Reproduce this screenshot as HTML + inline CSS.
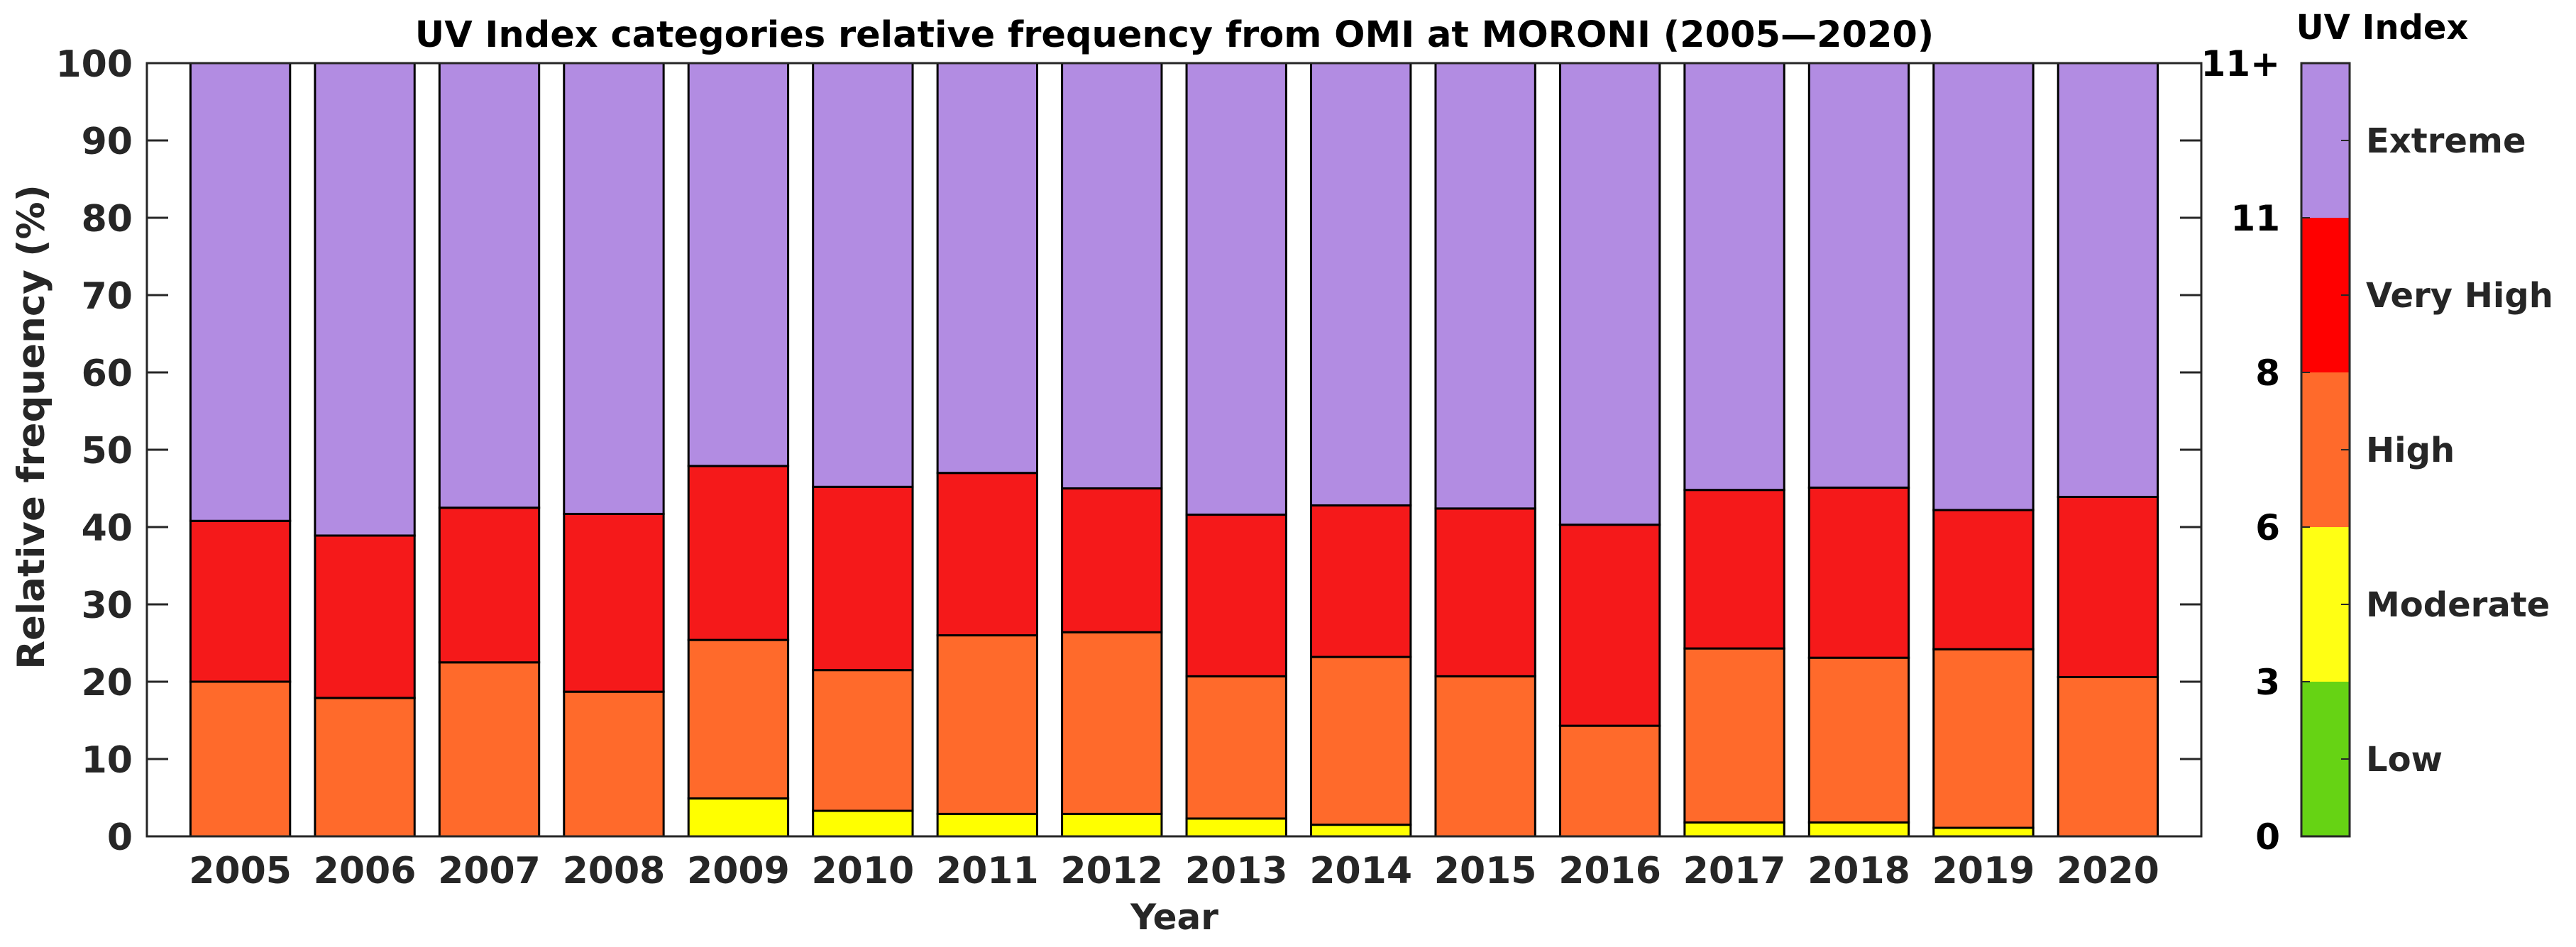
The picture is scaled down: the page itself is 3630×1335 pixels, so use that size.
<!DOCTYPE html>
<html><head><meta charset="utf-8"><style>
html,body{margin:0;padding:0;background:#fff;}
svg{display:block;font-family:"DejaVu Sans","Liberation Sans",sans-serif;font-weight:bold;}
</style></head><body>
<svg id="chart" width="3630" height="1335" viewBox="0 0 3630 1335">
<text x="1655" y="66" font-size="51" text-anchor="middle" fill="#000">UV Index categories relative frequency from OMI at MORONI (2005—2020)</text>
<g id="bars"></g>
<g id="axes"></g>
<text transform="translate(62,602) rotate(-90)" font-size="53" text-anchor="middle" fill="#262626">Relative frequency (%)</text>
<text x="1655" y="1310" font-size="50" text-anchor="middle" fill="#262626">Year</text>
<g id="cbar"></g>
</svg>
<script>
const years = ["2005","2006","2007","2008","2009","2010","2011","2012","2013","2014","2015","2016","2017","2018","2019","2020"];
const moderate = [0,0,0,0,4.9,3.3,2.9,2.9,2.3,1.5,0,0,1.8,1.8,1.1,0];
const high = [20.0,17.9,22.5,18.7,20.5,18.2,23.1,23.5,18.4,21.7,20.7,14.3,22.5,21.3,23.1,20.6];
const veryHigh = [20.8,21.0,20.0,23.0,22.5,23.7,21.0,18.6,20.9,19.6,21.7,26.0,20.5,22.0,18.0,23.3];
const extreme = [59.2,61.1,57.5,58.3,52.1,54.8,53.0,55.0,58.4,57.2,57.6,59.7,55.2,54.9,57.8,56.1];
const yTicks = [0,10,20,30,40,50,60,70,80,90,100];
const cbarLabels = ["0","3","6","8","11","11+"];
const cbarCats = ["Low","Moderate","High","Very High","Extreme"];

const NS="http://www.w3.org/2000/svg";
const L=207,R=3102,T=89,B=1179;
const x=i=>L+(i+0.75)/16.5*(R-L);
const y=v=>B-v/100*(B-T);
const bw=0.8/16.5*(R-L);
function mk(tag,attrs,parent){const e=document.createElementNS(NS,tag);for(const k in attrs)e.setAttribute(k,attrs[k]);parent.appendChild(e);return e;}
const bars=document.getElementById('bars'),axes=document.getElementById('axes'),cb=document.getElementById('cbar');
mk('rect',{x:L,y:T,width:R-L,height:B-T,fill:'#fff'},bars);
const series=[[moderate,'#ffff00','moderate'],[high,'#ff6a2b','high'],[veryHigh,'#f5191a','very-high'],[extreme,'#b28ce2','extreme']];
years.forEach((yr,i)=>{
  let base=0;
  series.forEach(([arr,col,nm])=>{
    const v=arr[i];
    if(v>0){
      const r=mk('rect',{x:x(i)-bw/2,y:y(base+v),width:bw,height:y(base)-y(base+v),fill:col,stroke:'#000','stroke-width':3},bars);
      
      
    }
    base+=v;
  });
  const t=mk('text',{x:x(i),y:1245,'font-size':52,'text-anchor':'middle',fill:'#262626'},axes);
  t.textContent=yr;
  
  
});
mk('rect',{x:L,y:T,width:R-L,height:B-T,fill:'none',stroke:'#262626','stroke-width':3},axes);
yTicks.forEach(v=>{
  mk('line',{x1:L,x2:L+30,y1:y(v),y2:y(v),stroke:'#262626','stroke-width':3},axes);
  mk('line',{x1:R,x2:R-30,y1:y(v),y2:y(v),stroke:'#262626','stroke-width':3},axes);
  const t=mk('text',{x:187,y:y(v)+19,'font-size':52,'text-anchor':'end',fill:'#262626'},axes);
  t.textContent=v;
  
  
});
const cx=3243,cw=68,ch=(B-T)/5;
const ccols=['#66d314','#ffff14','#ff6a2b','#ff0000','#b28ce2'];
cbarCats.forEach((c,k)=>{
  const yy=B-(k+1)*ch;
  const r=mk('rect',{x:cx,y:yy,width:cw,height:ch,fill:ccols[k]},cb);
  
  
  mk('line',{x1:cx+cw-12,x2:cx+cw,y1:yy+ch/2,y2:yy+ch/2,stroke:'#262626','stroke-width':2},cb);
  const t=mk('text',{x:3334,y:yy+ch/2+17,'font-size':48,fill:'#262626'},cb);
  t.textContent=c;
  
  
});
mk('rect',{x:cx,y:T,width:cw,height:B-T,fill:'none',stroke:'#262626','stroke-width':3},cb);
cbarLabels.forEach((l,k)=>{
  const yy=B-k*ch;
  mk('line',{x1:cx,x2:cx+12,y1:yy,y2:yy,stroke:'#262626','stroke-width':2},cb);
  const t=mk('text',{x:3213,y:yy+18,'font-size':50,'text-anchor':'end',fill:'#000'},cb);
  t.textContent=l;
  
  
});
const ct=mk('text',{x:3357,y:55,'font-size':48,'text-anchor':'middle',fill:'#000'},cb);
ct.textContent='UV Index';


</script>
</body></html>
